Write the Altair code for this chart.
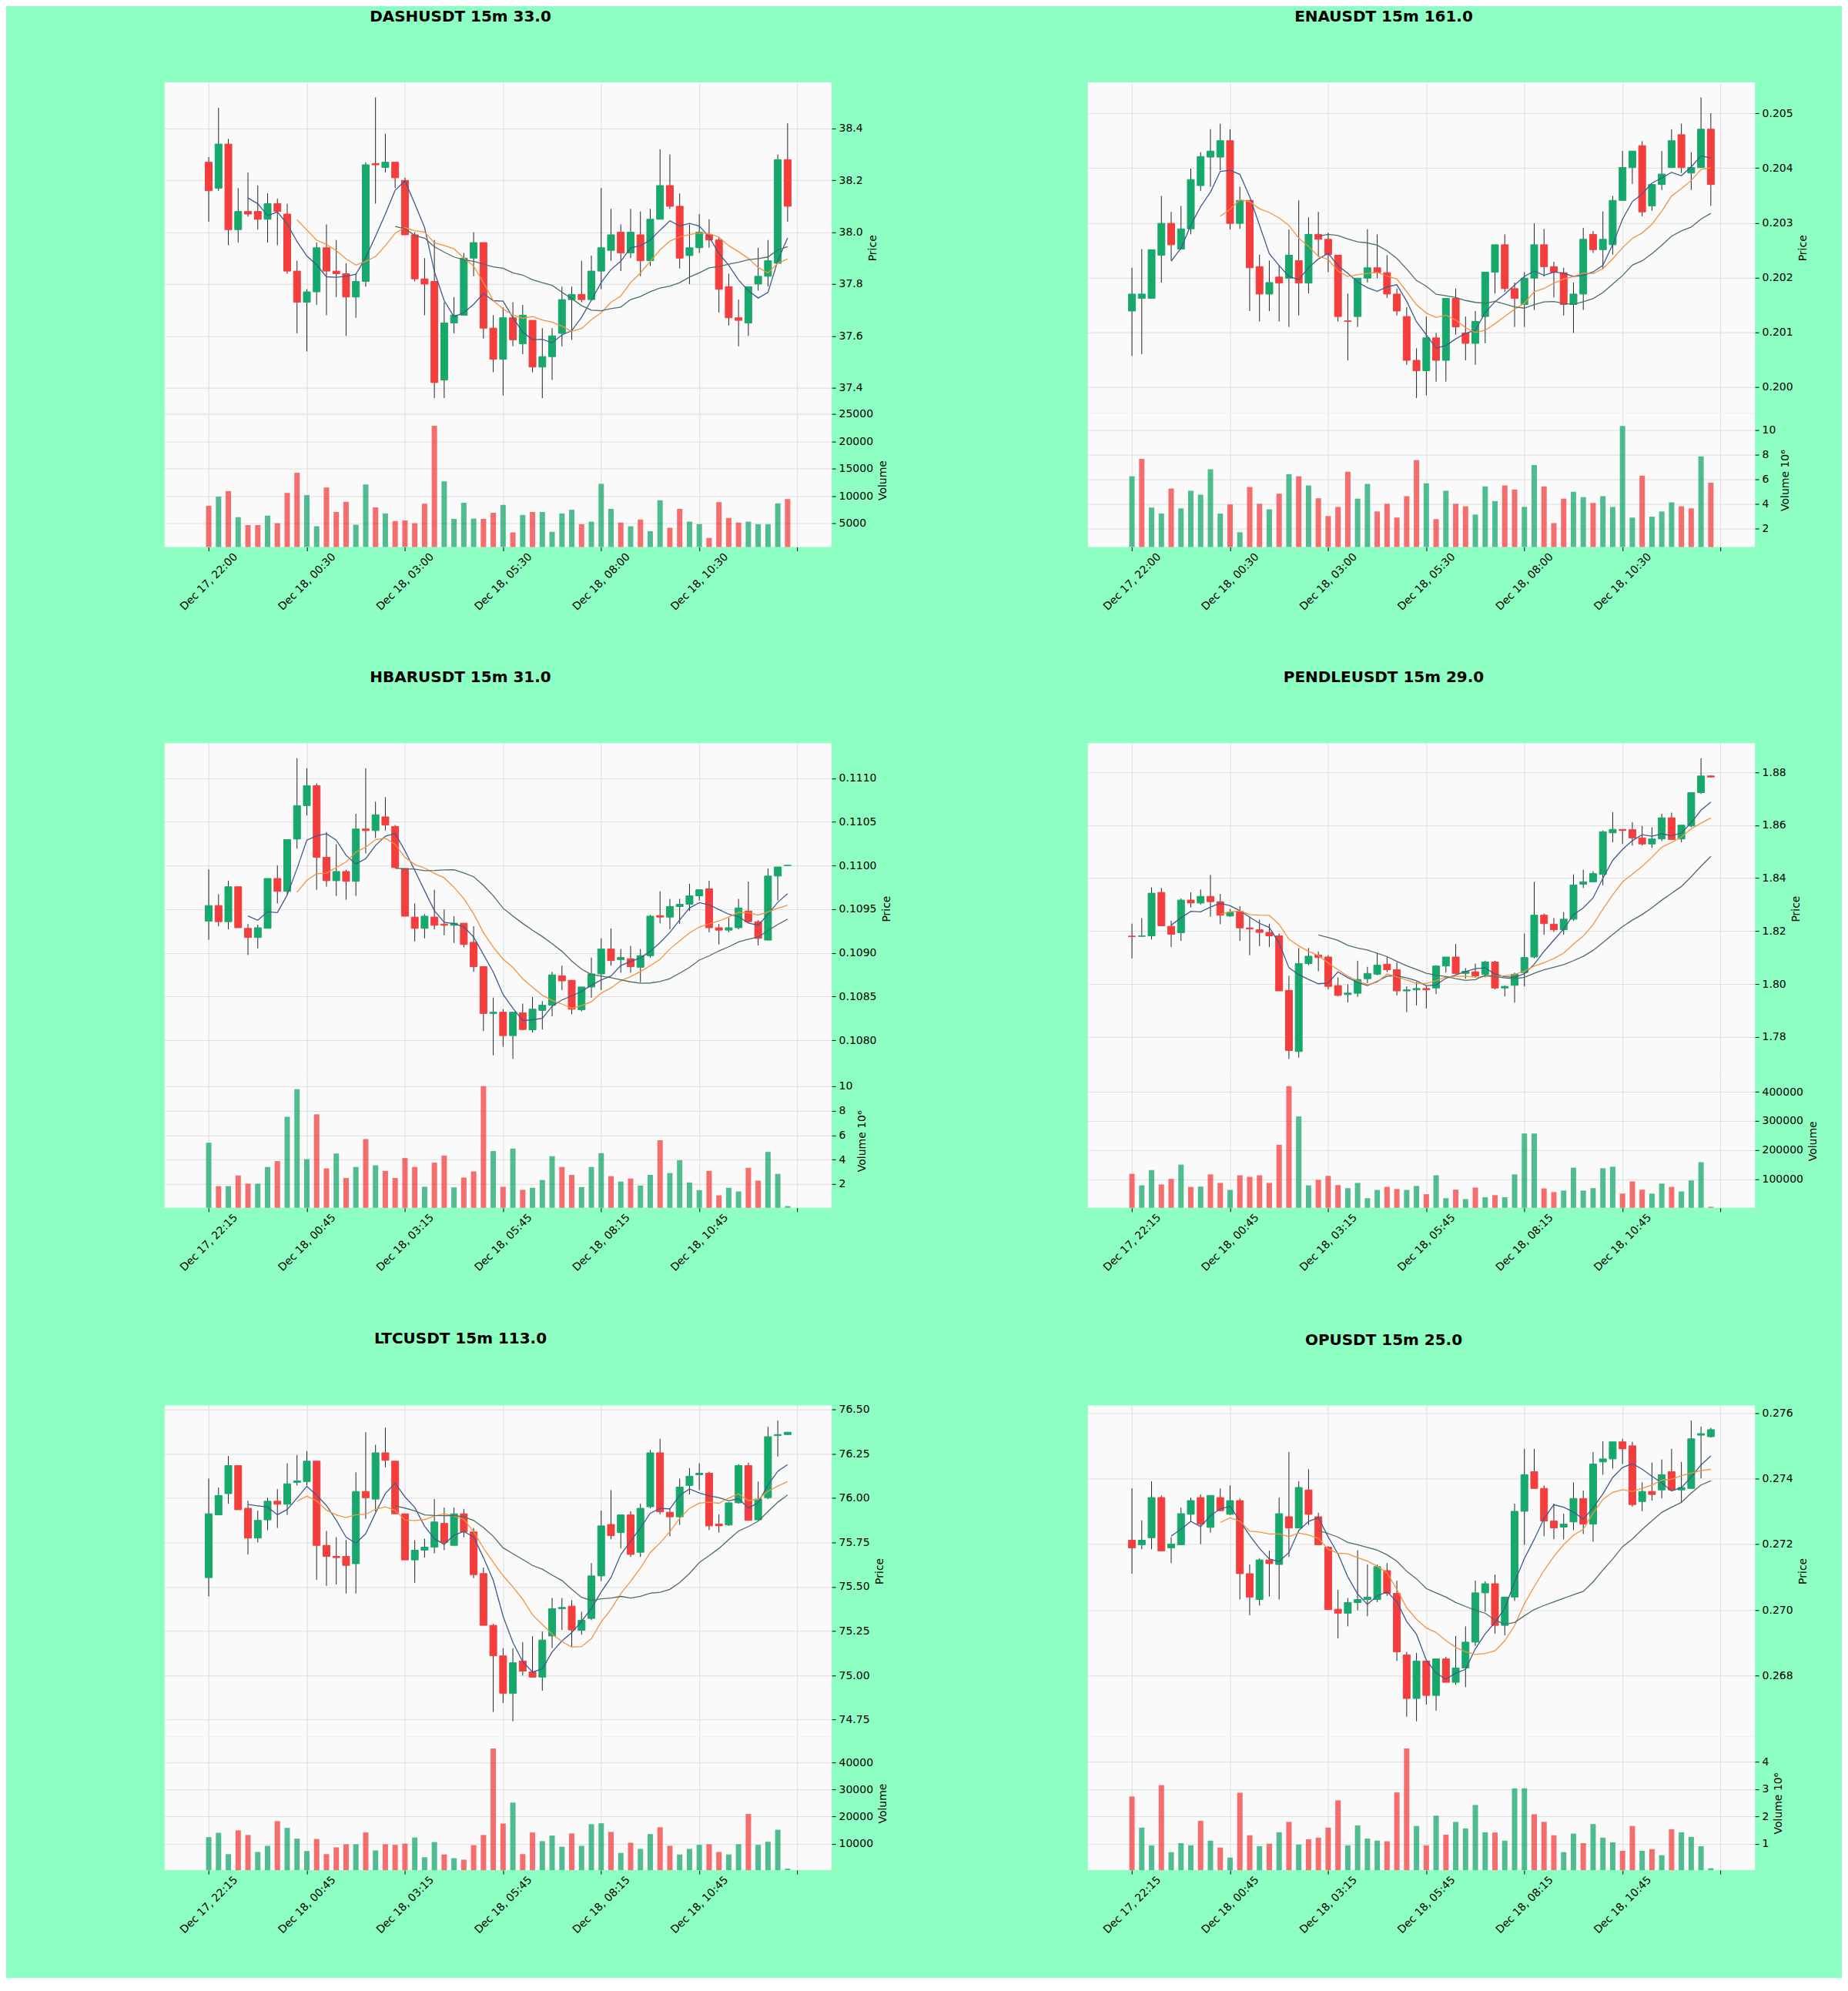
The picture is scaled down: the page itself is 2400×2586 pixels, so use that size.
import json
import altair as alt
import pandas as pd

# ---------------- data ----------------
X_LABELS_A = ["Dec 17, 22:00", "Dec 18, 00:30", "Dec 18, 03:00", "Dec 18, 05:30", "Dec 18, 08:00", "Dec 18, 10:30"]
X_LABELS_B = ["Dec 17, 22:15", "Dec 18, 00:45", "Dec 18, 03:15", "Dec 18, 05:45", "Dec 18, 08:15", "Dec 18, 10:45"]

dash_open = [38.27, 38.17, 38.34, 38.01, 38.08, 38.08, 38.05, 38.11, 38.07, 37.85,
             37.73, 37.77, 37.94, 37.85, 37.84, 37.75, 37.81, 38.265, 38.25, 38.27,
             38.20, 37.99, 37.82, 37.81, 37.43, 37.65, 37.68, 37.90, 37.96, 37.63,
             37.51, 37.67, 37.57, 37.66, 37.48, 37.52, 37.61, 37.74, 37.76, 37.74,
             37.85, 37.93, 38.00, 37.92, 37.99, 37.89, 38.05, 38.18, 38.10, 37.91,
             37.94, 37.99, 37.97, 37.79, 37.67, 37.65, 37.80, 37.83, 37.88, 38.28]
dash_high = [38.29, 38.48, 38.36, 38.17, 38.23, 38.18, 38.15, 38.13, 38.11, 37.89,
             37.78, 37.96, 38.03, 37.97, 37.88, 37.84, 38.27, 38.52, 38.38, 38.27,
             38.21, 38.00, 37.90, 37.97, 37.73, 37.75, 37.92, 38.00, 37.96, 37.68,
             37.71, 37.73, 37.72, 37.66, 37.63, 37.63, 37.79, 37.79, 37.89, 37.91,
             38.17, 38.09, 38.03, 38.09, 38.08, 38.09, 38.32, 38.30, 38.15, 38.03,
             38.07, 38.05, 37.98, 37.84, 37.74, 37.79, 37.94, 37.97, 38.30, 38.42]
dash_low = [38.04, 38.16, 37.95, 37.96, 38.06, 38.01, 37.96, 37.95, 37.84, 37.61,
            37.54, 37.72, 37.68, 37.75, 37.60, 37.67, 37.79, 38.11, 38.23, 38.17,
            37.99, 37.81, 37.68, 37.36, 37.36, 37.61, 37.68, 37.83, 37.59, 37.46,
            37.37, 37.56, 37.53, 37.46, 37.36, 37.43, 37.56, 37.585, 37.73, 37.74,
            37.78, 37.89, 37.85, 37.90, 37.83, 37.87, 38.05, 38.09, 37.86, 37.80,
            37.92, 37.94, 37.69, 37.64, 37.56, 37.60, 37.775, 37.79, 37.88, 38.04]
dash_close = [38.16, 38.34, 38.01, 38.08, 38.07, 38.05, 38.11, 38.08, 37.85, 37.73,
              37.77, 37.94, 37.85, 37.84, 37.75, 37.81, 38.26, 38.26, 38.27, 38.21,
              37.99, 37.82, 37.80, 37.42, 37.65, 37.68, 37.90, 37.96, 37.63, 37.51,
              37.67, 37.585, 37.68, 37.48, 37.52, 37.60, 37.74, 37.76, 37.74, 37.85,
              37.94, 37.99, 37.92, 38.00, 37.89, 38.05, 38.18, 38.10, 37.90, 37.94,
              38.00, 37.97, 37.78, 37.67, 37.66, 37.79, 37.83, 37.89, 38.28, 38.10]
dash_vol = [8240, 9920, 10920, 6170, 4720, 4720, 6450, 5060, 10590, 14280,
            10200, 4500, 11590, 7120, 8970, 4780, 12150, 7960, 6840, 5450,
            5560, 5060, 8630, 22880, 12710, 5840, 8800, 5890, 5840, 6960,
            8410, 3380, 6570, 7120, 7120, 3490, 6840, 7520, 4890, 5340,
            12260, 7680, 5170, 4500, 5730, 3600, 9250, 4220, 7680, 5340,
            4890, 2370, 8910, 6010, 5170, 5340, 4890, 4890, 8690, 9470]

ena_open = [0.20139, 0.20162, 0.20162, 0.20241, 0.20299, 0.20252, 0.20289, 0.20368, 0.20420, 0.20420,
            0.20450, 0.20299, 0.20341, 0.20220, 0.20170, 0.20201, 0.20199, 0.20231, 0.20190, 0.20279,
            0.20270, 0.20241, 0.20121, 0.20129, 0.20199, 0.20218, 0.20209, 0.20170, 0.20129, 0.20049,
            0.20030, 0.20090, 0.20049, 0.20162, 0.20099, 0.20080, 0.20129, 0.20210, 0.20260, 0.20180,
            0.20151, 0.20199, 0.20260, 0.20220, 0.20209, 0.20151, 0.20170, 0.20279, 0.20251, 0.20260,
            0.20341, 0.20401, 0.20441, 0.20331, 0.20370, 0.20401, 0.20461, 0.20391, 0.20401, 0.20471]
ena_high = [0.20218, 0.20252, 0.20251, 0.20349, 0.20320, 0.20331, 0.20399, 0.20429, 0.20471, 0.20481,
            0.20471, 0.20366, 0.20341, 0.20242, 0.20231, 0.20223, 0.20288, 0.20341, 0.20310, 0.20320,
            0.20282, 0.20241, 0.20171, 0.20199, 0.20288, 0.20279, 0.20241, 0.20180, 0.20146, 0.20071,
            0.20129, 0.20099, 0.20162, 0.20180, 0.20129, 0.20139, 0.20210, 0.20260, 0.20279, 0.20191,
            0.20210, 0.20299, 0.20289, 0.20229, 0.20218, 0.20191, 0.20291, 0.20285, 0.20321, 0.20349,
            0.20431, 0.20431, 0.20449, 0.20370, 0.20431, 0.20471, 0.20481, 0.20429, 0.20529, 0.20500]
ena_low = [0.20057, 0.20060, 0.20162, 0.20191, 0.20231, 0.20252, 0.20279, 0.20358, 0.20366, 0.20396,
           0.20288, 0.20289, 0.20139, 0.20120, 0.20139, 0.20120, 0.20110, 0.20131, 0.20171, 0.20238,
           0.20210, 0.20120, 0.20049, 0.20110, 0.20191, 0.20199, 0.20163, 0.20131, 0.20041, 0.19980,
           0.19985, 0.20010, 0.20010, 0.20096, 0.20049, 0.20041, 0.20080, 0.20171, 0.20174, 0.20110,
           0.20110, 0.20141, 0.20202, 0.20164, 0.20131, 0.20099, 0.20141, 0.20245, 0.20216, 0.20242,
           0.20341, 0.20371, 0.20312, 0.20322, 0.20360, 0.20401, 0.20391, 0.20360, 0.20401, 0.20331]
ena_close = [0.20170, 0.20170, 0.20251, 0.20299, 0.20260, 0.20289, 0.20379, 0.20421, 0.20431, 0.20450,
             0.20299, 0.20341, 0.20218, 0.20170, 0.20191, 0.20190, 0.20241, 0.20190, 0.20279, 0.20270,
             0.20242, 0.20129, 0.20120, 0.20199, 0.20218, 0.20209, 0.20170, 0.20139, 0.20049, 0.20030,
             0.20090, 0.20049, 0.20162, 0.20110, 0.20080, 0.20120, 0.20210, 0.20260, 0.20180, 0.20162,
             0.20199, 0.20260, 0.20220, 0.20210, 0.20151, 0.20170, 0.20270, 0.20251, 0.20270, 0.20341,
             0.20401, 0.20431, 0.20320, 0.20370, 0.20389, 0.20450, 0.20401, 0.20401, 0.20471, 0.20370]
ena_vol = [6240000, 7650000, 3710000, 3220000, 5250000, 3640000, 5070000, 4750000, 6810000, 3220000,
           3960000, 1710000, 5370000, 4010000, 3560000, 4830000, 6410000, 6240000, 5500000, 4460000,
           3020000, 3760000, 6610000, 4430000, 5620000, 3390000, 4010000, 2900000, 4630000, 7550000,
           5670000, 2770000, 5070000, 4010000, 3810000, 3140000, 5420000, 4230000, 5500000, 5170000,
           3760000, 7150000, 5420000, 2450000, 4430000, 4980000, 4550000, 4080000, 4630000, 3760000,
           10320000, 2900000, 6290000, 2970000, 3390000, 4130000, 3810000, 3640000, 7850000, 5720000]

hbar_open = [0.109364, 0.109542, 0.109357, 0.109758, 0.109281, 0.109176, 0.109281, 0.109852, 0.109705, 0.110304,
             0.110687, 0.110916, 0.110095, 0.109827, 0.109932, 0.109820, 0.110419, 0.110401, 0.110558, 0.110447,
             0.109966, 0.109410, 0.109281, 0.109410, 0.109330, 0.109316, 0.109340, 0.109121, 0.108842, 0.108306,
             0.108320, 0.108052, 0.108313, 0.108119, 0.108341, 0.108400, 0.108738, 0.108686, 0.108348, 0.108609,
             0.108759, 0.109044, 0.108923, 0.108933, 0.108835, 0.108968, 0.109427, 0.109410, 0.109531, 0.109556,
             0.109653, 0.109733, 0.109288, 0.109260, 0.109288, 0.109479, 0.109357, 0.109146, 0.109880, 0.110000]
hbar_high = [0.109956, 0.109671, 0.109827, 0.109758, 0.109330, 0.109323, 0.109852, 0.110001, 0.110297, 0.111230,
             0.111115, 0.110941, 0.110384, 0.110245, 0.109949, 0.110593, 0.111115, 0.110732, 0.110784, 0.110464,
             0.109966, 0.109566, 0.109444, 0.109723, 0.109497, 0.109420, 0.109340, 0.109305, 0.108842, 0.108487,
             0.108355, 0.108320, 0.108418, 0.108494, 0.108446, 0.108783, 0.108853, 0.108686, 0.108609, 0.108947,
             0.109166, 0.109281, 0.109044, 0.109079, 0.109044, 0.109434, 0.109705, 0.109618, 0.109618, 0.109792,
             0.109723, 0.109827, 0.109330, 0.109399, 0.109618, 0.109817, 0.109375, 0.109966, 0.109984, 0.110005]
hbar_low = [0.109149, 0.109305, 0.109270, 0.109288, 0.108975, 0.109051, 0.109281, 0.109566, 0.109671, 0.110193,
            0.110575, 0.109723, 0.109758, 0.109653, 0.109608, 0.109653, 0.110140, 0.110314, 0.110401, 0.109977,
            0.109420, 0.109131, 0.109166, 0.109270, 0.109201, 0.109114, 0.109062, 0.108783, 0.108105, 0.107826,
            0.107924, 0.107785, 0.108112, 0.108087, 0.108122, 0.108272, 0.108574, 0.108296, 0.108331, 0.108487,
            0.108574, 0.108853, 0.108773, 0.108773, 0.108661, 0.108947, 0.109340, 0.109270, 0.109330, 0.109479,
            0.109601, 0.109236, 0.109096, 0.109236, 0.109270, 0.109340, 0.109086, 0.109146, 0.109601, 0.109998]
hbar_close = [0.109542, 0.109357, 0.109758, 0.109288, 0.109176, 0.109288, 0.109852, 0.109705, 0.110297, 0.110687,
              0.110916, 0.110095, 0.109827, 0.109932, 0.109820, 0.110419, 0.110401, 0.110582, 0.110464, 0.109977,
              0.109420, 0.109281, 0.109420, 0.109316, 0.109316, 0.109340, 0.109096, 0.108842, 0.108306, 0.108320,
              0.108052, 0.108320, 0.108122, 0.108355, 0.108400, 0.108748, 0.108679, 0.108355, 0.108609, 0.108759,
              0.109044, 0.108912, 0.108947, 0.108842, 0.108968, 0.109420, 0.109410, 0.109531, 0.109556, 0.109653,
              0.109723, 0.109288, 0.109260, 0.109288, 0.109514, 0.109357, 0.109166, 0.109880, 0.109984, 0.110003]
hbar_vol = [5380000, 1830000, 1830000, 2700000, 2030000, 2030000, 3400000, 3880000, 7500000, 9750000,
            4030000, 7700000, 3280000, 4500000, 2500000, 3400000, 5680000, 3530000, 3080000, 2500000,
            4130000, 3400000, 1780000, 3750000, 4330000, 1730000, 2530000, 3030000, 10000000, 4700000,
            1780000, 4900000, 1530000, 1700000, 2330000, 4280000, 3400000, 2750000, 1750000, 3400000,
            4530000, 2650000, 2200000, 2450000, 1880000, 2750000, 5580000, 2900000, 3950000, 2130000,
            1500000, 3080000, 1080000, 1700000, 1400000, 3330000, 2280000, 4630000, 2830000, 200000]

pendle_open = [1.8181, 1.8180, 1.8182, 1.8346, 1.8218, 1.8194, 1.8317, 1.8306, 1.8331, 1.8311,
               1.8257, 1.8274, 1.8212, 1.8205, 1.8195, 1.8182, 1.7976, 1.7745, 1.8077, 1.8109,
               1.8102, 1.7994, 1.7960, 1.7965, 1.8020, 1.8037, 1.8075, 1.8054, 1.7974, 1.7978,
               1.7983, 1.7985, 1.8068, 1.8102, 1.8040, 1.8046, 1.8037, 1.8083, 1.7985, 1.7995,
               1.8043, 1.8102, 1.8260, 1.8226, 1.8205, 1.8245, 1.8377, 1.8386, 1.8414, 1.8571,
               1.8584, 1.8583, 1.8552, 1.8529, 1.8548, 1.8628, 1.8548, 1.8597, 1.8723, 1.8786]
pendle_high = [1.8228, 1.8249, 1.8365, 1.8363, 1.8239, 1.8323, 1.8346, 1.8357, 1.8412, 1.8340,
               1.8283, 1.8294, 1.8254, 1.8243, 1.8228, 1.8191, 1.8031, 1.8136, 1.8136, 1.8123,
               1.8109, 1.8025, 1.7999, 1.8088, 1.8065, 1.8117, 1.8102, 1.8083, 1.7991, 1.8008,
               1.7991, 1.8071, 1.8102, 1.8151, 1.8060, 1.8077, 1.8088, 1.8088, 1.7995, 1.8043,
               1.8191, 1.8386, 1.8266, 1.8249, 1.8271, 1.8414, 1.8432, 1.8426, 1.8580, 1.8649,
               1.8584, 1.8612, 1.8597, 1.8592, 1.8643, 1.8647, 1.8600, 1.8723, 1.8853, 1.8788]
pendle_low = [1.8097, 1.8180, 1.8168, 1.8220, 1.8140, 1.8163, 1.8289, 1.8300, 1.8254, 1.8226,
              1.8254, 1.8163, 1.8109, 1.8143, 1.8140, 1.7974, 1.7717, 1.7722, 1.8071, 1.8048,
              1.7980, 1.7953, 1.7930, 1.7951, 1.8003, 1.8033, 1.8045, 1.7957, 1.7894, 1.7919,
              1.7908, 1.7962, 1.8043, 1.8037, 1.8020, 1.8025, 1.8025, 1.7980, 1.7953, 1.7930,
              1.7991, 1.8097, 1.8186, 1.8197, 1.8186, 1.8239, 1.8363, 1.8386, 1.8372, 1.8535,
              1.8529, 1.8523, 1.8523, 1.8514, 1.8540, 1.8546, 1.8535, 1.8592, 1.8718, 1.8780]
pendle_close = [1.8179, 1.8182, 1.8343, 1.8220, 1.8188, 1.8317, 1.8306, 1.8331, 1.8311, 1.8260,
                1.8271, 1.8212, 1.8208, 1.8195, 1.8182, 1.7974, 1.7749, 1.8077, 1.8105, 1.8100,
                1.7991, 1.7957, 1.7966, 1.8017, 1.8040, 1.8071, 1.8054, 1.7974, 1.7978, 1.7983,
                1.7978, 1.8068, 1.8102, 1.8040, 1.8048, 1.8031, 1.8083, 1.7985, 1.7991, 1.8037,
                1.8100, 1.8260, 1.8228, 1.8205, 1.8245, 1.8374, 1.8386, 1.8417, 1.8575, 1.8584,
                1.8580, 1.8552, 1.8529, 1.8548, 1.8628, 1.8546, 1.8600, 1.8723, 1.8786, 1.8782]
pendle_vol = [118500, 78700, 131100, 81800, 100700, 150000, 73400, 74500, 116400, 87100,
              62900, 113300, 108000, 113300, 87100, 218200, 419600, 315700, 78700, 97600,
              111200, 79700, 69200, 87100, 34600, 62900, 73400, 66100, 62900, 76600,
              48300, 113300, 34600, 64000, 31500, 71300, 37800, 45100, 37800, 116400,
              257000, 257000, 68200, 55600, 60800, 139500, 60800, 69200, 137400, 142700,
              50400, 92300, 64000, 50400, 85000, 73400, 57700, 95500, 158400, 5000]

ltc_open = [75.551, 75.905, 76.025, 76.183, 75.942, 75.774, 75.877, 75.982, 75.965, 76.088,
            76.093, 76.208, 75.733, 75.671, 75.671, 75.630, 76.037, 75.994, 76.255, 76.208,
            75.911, 75.651, 75.706, 75.723, 75.857, 75.733, 75.911, 75.809, 75.574, 75.282,
            75.110, 74.899, 75.081, 75.019, 74.990, 75.222, 75.376, 75.390, 75.254, 75.321,
            75.561, 75.851, 75.805, 75.905, 75.694, 75.951, 76.255, 75.920, 75.894, 76.071,
            76.131, 76.140, 75.853, 75.848, 75.973, 76.183, 75.877, 76.002, 76.352, 76.358]
ltc_high = [76.110, 76.059, 76.237, 76.183, 75.985, 75.929, 76.002, 76.050, 76.196, 76.243,
            76.265, 76.208, 75.814, 75.779, 75.762, 76.145, 76.371, 76.300, 76.397, 76.208,
            75.911, 75.762, 75.771, 75.994, 75.946, 75.946, 75.939, 75.831, 75.608, 75.290,
            75.153, 75.153, 75.187, 75.221, 75.247, 75.436, 75.436, 75.424, 75.359, 75.633,
            75.929, 76.045, 75.905, 75.925, 75.968, 76.272, 76.334, 75.942, 76.110, 76.169,
            76.196, 76.148, 75.908, 75.977, 76.191, 76.200, 76.093, 76.402, 76.437, 76.373]
ltc_low = [75.445, 75.905, 75.968, 75.934, 75.682, 75.750, 75.819, 75.831, 75.905, 76.071,
           76.071, 75.539, 75.505, 75.513, 75.462, 75.462, 75.882, 75.925, 76.174, 75.911,
           75.651, 75.522, 75.664, 75.688, 75.706, 75.733, 75.779, 75.548, 75.282, 74.793,
           74.844, 74.741, 74.999, 74.990, 74.913, 75.153, 75.256, 75.162, 75.230, 75.311,
           75.531, 75.767, 75.716, 75.668, 75.668, 75.942, 75.908, 75.784, 75.848, 76.020,
           76.045, 75.819, 75.805, 75.843, 75.968, 75.874, 75.874, 75.994, 76.234, 76.356]
ltc_close = [75.911, 76.014, 76.183, 75.934, 75.774, 75.874, 75.982, 75.965, 76.080, 76.097,
             76.208, 75.733, 75.671, 75.664, 75.620, 76.037, 76.002, 76.255, 76.213, 75.911,
             75.651, 75.706, 75.723, 75.865, 75.750, 75.911, 75.809, 75.568, 75.282, 75.110,
             74.899, 75.071, 75.024, 74.990, 75.199, 75.376, 75.383, 75.256, 75.311, 75.561,
             75.843, 75.788, 75.905, 75.682, 75.942, 76.255, 75.922, 75.894, 76.062, 76.123,
             76.140, 75.843, 75.843, 75.973, 76.183, 75.874, 75.994, 76.346, 76.358, 76.371]
ltc_vol = [12430, 14020, 6160, 14930, 13220, 6950, 9230, 18350, 15850, 11860,
           7300, 11740, 6160, 8660, 9800, 9800, 14140, 7520, 9800, 9580,
           10030, 12310, 5020, 10600, 6040, 4670, 4100, 9460, 13220, 45140,
           17440, 25190, 6160, 14140, 10940, 13000, 8890, 13790, 9230, 17210,
           17560, 14360, 6610, 10370, 8090, 13570, 16070, 9230, 6040, 8090,
           9580, 9800, 6950, 6040, 9800, 20980, 9580, 10720, 15160, 800]

op_open = [0.272125, 0.271986, 0.272199, 0.273423, 0.271893, 0.271986, 0.272913, 0.273423, 0.272515, 0.273423,
           0.272913, 0.273330, 0.271105, 0.270318, 0.271523, 0.271384, 0.272839, 0.272496, 0.273655, 0.272839,
           0.271912, 0.270021, 0.269901, 0.270225, 0.270318, 0.270318, 0.271198, 0.270503, 0.268630, 0.267305,
           0.268445, 0.267397, 0.268510, 0.267796, 0.268232, 0.269020, 0.270521, 0.270799, 0.269530, 0.270392,
           0.273006, 0.274211, 0.273701, 0.272709, 0.272524, 0.272681, 0.273395, 0.272616, 0.274508, 0.274600,
           0.275119, 0.274999, 0.273302, 0.273608, 0.273655, 0.274211, 0.273655, 0.273701, 0.275323, 0.275277]
op_high = [0.273701, 0.272728, 0.273914, 0.273488, 0.272218, 0.273117, 0.273423, 0.273516, 0.273488, 0.273701,
           0.273794, 0.273395, 0.271384, 0.271569, 0.271801, 0.273423, 0.274813, 0.273914, 0.274285, 0.272959,
           0.271940, 0.270614, 0.270364, 0.271819, 0.271384, 0.271384, 0.271430, 0.270892, 0.268723, 0.268695,
           0.268445, 0.268510, 0.268575, 0.269205, 0.269502, 0.270892, 0.270874, 0.271078, 0.270392, 0.273238,
           0.274906, 0.274906, 0.273794, 0.273238, 0.272932, 0.273886, 0.273636, 0.274813, 0.275138, 0.275119,
           0.275212, 0.275119, 0.273886, 0.274489, 0.274582, 0.274906, 0.274508, 0.275768, 0.275583, 0.275545]
op_low = [0.271105, 0.271847, 0.271847, 0.271801, 0.271430, 0.271986, 0.272681, 0.272005, 0.272357, 0.273006,
          0.272895, 0.270318, 0.269836, 0.270132, 0.270410, 0.270318, 0.271615, 0.272496, 0.272589, 0.271986,
          0.269993, 0.269131, 0.269502, 0.269993, 0.269808, 0.270243, 0.270429, 0.268445, 0.266749, 0.266610,
          0.267119, 0.266934, 0.267796, 0.267722, 0.267648, 0.268908, 0.269947, 0.269279, 0.269224, 0.270271,
          0.271986, 0.273701, 0.272246, 0.272153, 0.272153, 0.272431, 0.272311, 0.272079, 0.274118, 0.274304,
          0.274443, 0.273145, 0.273006, 0.273330, 0.273395, 0.273655, 0.273284, 0.273701, 0.274007, 0.275249]
op_close = [0.271893, 0.272125, 0.273423, 0.271801, 0.272005, 0.272932, 0.273330, 0.272616, 0.273488, 0.273024,
            0.273330, 0.271105, 0.270392, 0.271523, 0.271411, 0.272932, 0.272496, 0.273729, 0.272913, 0.271986,
            0.270012, 0.269901, 0.270225, 0.270318, 0.270392, 0.271319, 0.270503, 0.268723, 0.267305, 0.268445,
            0.267397, 0.268510, 0.267796, 0.268232, 0.269020, 0.270521, 0.270799, 0.269530, 0.270392, 0.273006,
            0.274118, 0.273701, 0.272709, 0.272496, 0.272616, 0.273395, 0.272616, 0.274443, 0.274600, 0.275119,
            0.274906, 0.273210, 0.273608, 0.273516, 0.274118, 0.273655, 0.273729, 0.275212, 0.275370, 0.275490]
op_vol = [2730000, 1590000, 940000, 3150000, 690000, 1020000, 940000, 1840000, 1110000, 860000,
          490000, 2870000, 1310000, 910000, 1000000, 1420000, 1800000, 970000, 1160000, 1220000,
          1590000, 2590000, 940000, 1670000, 1190000, 1110000, 1090000, 2880000, 4490000, 1650000,
          940000, 2030000, 1330000, 1800000, 1560000, 2420000, 1420000, 1410000, 1110000, 3030000,
          3030000, 2080000, 1800000, 1310000, 690000, 1370000, 1020000, 1720000, 1220000, 1050000,
          740000, 1650000, 740000, 800000, 580000, 1530000, 1420000, 1250000, 910000, 100000]

# ---------------- style ----------------
BG = "#8effc3"
PLOT_BG = "#fafafa"
UP = "#17a86c"
DOWN = "#f43d3d"
WICK = "#262626"
MA_COLORS = ["#3f5b8c", "#f5923e", "#4d6e63"]
GRID = "#dddddd"
FONT = "DejaVu Sans"

PW = 867
PH = 430
VH = 174
XDOM = [-4.1, 63.1]
XVALS = [0, 10, 20, 30, 40, 50, 60]

CSCALE = alt.Scale(domain=["up", "down", "MA5", "MA10", "MA20"],
                   range=[UP, DOWN] + MA_COLORS)


def make_panel(title, o, h, l, c, v, xlabels, yvals, yfmt, vvals, vscaled):
    n = len(c)
    prev = [o[0]] + list(c[:-1])
    df = pd.DataFrame({
        "i": list(range(n)), "open": o, "high": h, "low": l, "close": c, "vol": v,
        "dir": ["up" if cc > oo else "down" for oo, cc in zip(o, c)],
        "vdir": ["up" if cc > pp else "down" for pp, cc in zip(prev, c)],
    })
    cs = pd.Series(c, dtype=float)
    df["MA5"] = cs.rolling(5).mean()
    df["MA10"] = cs.rolling(10).mean()
    df["MA20"] = cs.rolling(20).mean()

    lo, hi = min(l), max(h)
    r = hi - lo
    ydom = [lo - 0.05 * r, hi + 0.05 * r]
    vdom = [0.3 * min(v), 1.1 * max(v)]

    xscale = alt.Scale(domain=XDOM, nice=False, zero=False)
    yscale = alt.Scale(domain=ydom, nice=False, zero=False)
    yaxis = alt.Axis(orient="right", values=yvals, format=yfmt, title="Price",
                     titleAngle=270, titleBaseline="top", titlePadding=6,
                     grid=True, tickSize=5, labelPadding=4)
    xtop = alt.X("i:Q", scale=xscale,
                 axis=alt.Axis(values=XVALS, labels=False, ticks=False, title=None, grid=True))

    base = alt.Chart(df)
    wick = base.mark_rule(color=WICK, strokeWidth=1).encode(
        x=xtop, y=alt.Y("low:Q", scale=yscale, axis=yaxis), y2="high:Q")
    body = base.mark_bar(size=9, strokeWidth=1).encode(
        x=xtop, y=alt.Y("open:Q", scale=yscale, axis=yaxis), y2="close:Q",
        color=alt.Color("dir:N", scale=CSCALE, legend=None),
        stroke=alt.Stroke("dir:N", scale=CSCALE, legend=None))
    mas = base.transform_fold(["MA5", "MA10", "MA20"], as_=["ma", "value"]).transform_filter(
        "isValid(datum.value)").mark_line(strokeWidth=1.3).encode(
        x=xtop, y=alt.Y("value:Q", scale=yscale, axis=yaxis),
        color=alt.Color("ma:N", scale=CSCALE, legend=None))
    price = alt.layer(wick, body, mas).properties(
        width=PW, height=PH,
        title=alt.TitleParams(text=title, fontSize=20, fontWeight="bold",
                              font=FONT, color="black", anchor="middle",
                              frame="group", dx=-49, offset=59,
                              baseline="alphabetic"))

    xexpr = "datum.value < 60 ? " + json.dumps(xlabels) + "[round(datum.value / 10)] : ''"
    xbot = alt.X("i:Q", scale=xscale,
                 axis=alt.Axis(values=XVALS, labelExpr=xexpr, labelAngle=315,
                               labelAlign="center", labelBaseline="middle", labelPadding=40,
                               labelOverlap=False, labelBound=False, labelFlush=False,
                               tickSize=5, title=None, grid=True))
    vaxis_kw = dict(orient="right", values=vvals, grid=True, tickSize=5, labelPadding=4,
                    titleAngle=270, titleBaseline="top", titlePadding=6)
    if vscaled:
        vaxis_kw["labelExpr"] = "format(datum.value / 1000000, 'd')"
        vaxis_kw["title"] = "Volume  10\u2076"
    else:
        vaxis_kw["format"] = "d"
        vaxis_kw["title"] = "Volume"
    vol = base.mark_bar(size=7, opacity=0.75).encode(
        x=xbot,
        y=alt.Y("vol:Q", scale=alt.Scale(domain=vdom, nice=False, zero=False),
                axis=alt.Axis(**vaxis_kw)),
        y2=alt.datum(vdom[0]),
        color=alt.Color("vdir:N", scale=CSCALE, legend=None)).properties(width=PW, height=VH)

    return alt.vconcat(price, vol, spacing=0, bounds="flush")


p_dash = make_panel("DASHUSDT 15m 33.0", dash_open, dash_high, dash_low, dash_close, dash_vol,
                    X_LABELS_A, [37.4, 37.6, 37.8, 38.0, 38.2, 38.4], ".1f",
                    [5000, 10000, 15000, 20000, 25000], False)
p_ena = make_panel("ENAUSDT 15m 161.0", ena_open, ena_high, ena_low, ena_close, ena_vol,
                   X_LABELS_A, [0.200, 0.201, 0.202, 0.203, 0.204, 0.205], ".3f",
                   [2000000, 4000000, 6000000, 8000000, 10000000], True)
p_hbar = make_panel("HBARUSDT 15m 31.0", hbar_open, hbar_high, hbar_low, hbar_close, hbar_vol,
                    X_LABELS_B, [0.1080, 0.1085, 0.1090, 0.1095, 0.1100, 0.1105, 0.1110], ".4f",
                    [2000000, 4000000, 6000000, 8000000, 10000000], True)
p_pendle = make_panel("PENDLEUSDT 15m 29.0", pendle_open, pendle_high, pendle_low, pendle_close, pendle_vol,
                      X_LABELS_B, [1.78, 1.80, 1.82, 1.84, 1.86, 1.88], ".2f",
                      [100000, 200000, 300000, 400000], False)
p_ltc = make_panel("LTCUSDT 15m 113.0", ltc_open, ltc_high, ltc_low, ltc_close, ltc_vol,
                   X_LABELS_B, [74.75, 75.00, 75.25, 75.50, 75.75, 76.00, 76.25, 76.50], ".2f",
                   [10000, 20000, 30000, 40000], False)
p_op = make_panel("OPUSDT 15m 25.0", op_open, op_high, op_low, op_close, op_vol,
                  X_LABELS_B, [0.268, 0.270, 0.272, 0.274, 0.276], ".3f",
                  [1000000, 2000000, 3000000, 4000000], True)

chart = alt.concat(p_dash, p_ena, p_hbar, p_pendle, p_ltc, p_op, columns=2,
                   spacing={"row": 75, "column": 255}).properties(
    padding={"left": 206, "top": 3, "right": 30, "bottom": 54}
).configure(background=BG).configure_view(fill=PLOT_BG, strokeWidth=0).configure_axis(
    labelFont=FONT, titleFont=FONT, labelFontSize=14, titleFontSize=14,
    titleFontWeight="normal", labelColor="black", titleColor="black",
    gridColor=GRID, gridWidth=1, tickColor="black", tickWidth=1, domain=False)

chart.save("out.html", embed_options={"renderer": "svg", "actions": False})
